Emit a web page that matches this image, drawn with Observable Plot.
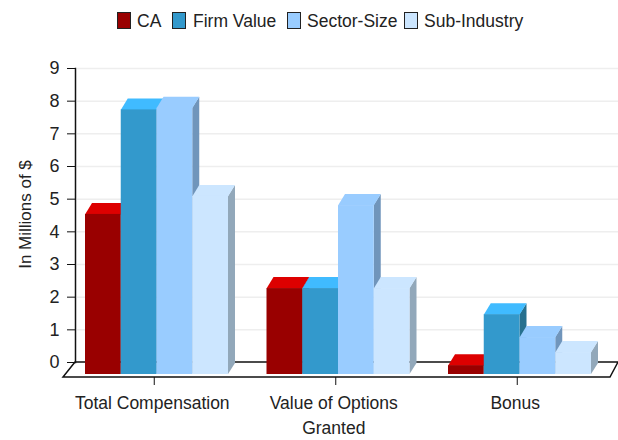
<!DOCTYPE html>
<html><head><meta charset="utf-8">
<script src="https://cdn.jsdelivr.net/npm/d3@7"></script>
<script src="https://cdn.jsdelivr.net/npm/@observablehq/plot@0.6"></script>
<style>
html,body{margin:0;padding:0;background:#fff}
#legend{position:relative;height:40px;width:618px;font:17.5px "Liberation Sans",Arial,sans-serif;color:#222}
#legend span{position:absolute;top:10px;line-height:22px;white-space:nowrap}
#legend i{position:absolute;top:12px;width:12px;height:15px;border:1px solid #222;box-sizing:content-box}
svg{display:block}
</style></head><body>
<div id="legend"></div>
<div id="chart"></div>
<script>
const groups = ["Total Compensation", "Value of Options\nGranted", "Bonus"];
const seriesNames = ["CA", "Firm Value", "Sector-Size", "Sub-Industry"];
const ca = [4.9, 2.63, 0.27];
const firmValue = [8.1, 2.63, 1.83];
const sectorSize = [8.15, 5.17, 1.13];
const subIndustry = [5.45, 2.63, 0.67];
const frontColors = ["#990000", "#3399cc", "#99ccff", "#cce6ff"];
const topColors = ["#dd0000", "#40bbff", "#99ccff", "#cce6ff"];
const sideColors = ["#660000", "#26708f", "#7095bb", "#92a8ba"];
const legendSwatchX = [117, 172, 287, 404];
const legendTextX = [137, 193, 307, 424];
const yTicks = [0,1,2,3,4,5,6,7,8,9];
const gridTicks = [1,2,3,4,5,6,7,8,9];

const seriesValues = [ca, firmValue, sectorSize, subIndustry];
const rows = groups.flatMap((g, gi) => seriesNames.map((s, si) => ({key: g + "|" + s, si, value: seriesValues[si][gi]})));
// one band per bar plus one empty band after each group
const xDomain = groups.flatMap(g => [...seriesNames.map(s => g + "|" + s), g + "|gap"]);
const groupTicks = groups.map(g => g + "|" + seriesNames[2]);

const depthX = 7, depthY = 11, frontDrop = 12, barShrink = 0.55;
const font = '"Liberation Sans",Arial,sans-serif';

const lg = document.getElementById("legend");
seriesNames.forEach((s, i) => {
  const sw = document.createElement("i");
  sw.style.left = legendSwatchX[i] + "px";
  sw.style.background = frontColors[i];
  lg.appendChild(sw);
  const t = document.createElement("span");
  t.style.left = legendTextX[i] + "px";
  t.textContent = s;
  lg.appendChild(t);
});

function bars3d(index, scales, values, dims) {
  const g = d3.create("svg:g");
  const band = scales.x(xDomain[1]) - scales.x(xDomain[0]);
  const w = band - barShrink;
  const y0 = scales.y(0) + frontDrop;
  for (const i of index) {
    const d = rows[i];
    const x = scales.x(d.key) - d.si * barShrink;
    const yf = scales.y(d.value) + frontDrop;
    g.append("polygon").attr("fill", sideColors[d.si])
      .attr("points", [[x+w,yf],[x+w+depthX,yf-depthY],[x+w+depthX,y0-depthY],[x+w,y0]].join(" "));
    g.append("polygon").attr("fill", topColors[d.si])
      .attr("points", [[x,yf+0.5],[x+depthX,yf-depthY],[x+w+depthX,yf-depthY],[x+w,yf+0.5]].join(" "));
    g.append("rect").attr("fill", frontColors[d.si])
      .attr("x", x).attr("y", yf).attr("width", w).attr("height", y0 - yf);
  }
  return g.node();
}

function floor(index, scales, values, dims) {
  const g = d3.create("svg:g");
  const yb = scales.y(0), yf = yb + 15;
  const xl = dims.marginLeft, xr = dims.width - dims.marginRight;
  g.append("path").attr("fill", "none").attr("stroke", "#111").attr("stroke-width", 1.5)
    .attr("d", `M${xl},${yb}L${xl-12},${yf}L${xr-8},${yf}L${xr},${yb}Z`);
  return g.node();
}

const chart = Plot.plot({
  width: 618,
  height: 400,
  marginLeft: 75,
  marginRight: 0,
  marginTop: 28,
  marginBottom: 78,
  style: {fontFamily: font, background: "#fff", color: "#222", overflow: "visible"},
  x: {domain: xDomain, range: [85, 629.5], padding: 0, round: false, axis: null, label: null},
  y: {domain: [0, 9], label: null},
  marks: [
    Plot.ruleY(gridTicks, {stroke: "#eeeeee", strokeWidth: 1.5, insetLeft: 2}),
    Plot.frame({anchor: "left", stroke: "#111", strokeWidth: 1.5}),
    Plot.ruleY([0], {render: floor}),
    Plot.barY(rows, {x: "key", y: "value", render: bars3d}),
    Plot.axisY({ticks: yTicks, tickFormat: d => String(d), tickSize: 8, tickPadding: 8, fontSize: 18, stroke: "#111", label: null}),
    Plot.axisX({ticks: groupTicks, tickFormat: null, anchor: "bottom", dy: 15, dx: -22, tickSize: 8, stroke: "#111", label: null}),
    Plot.axisX({ticks: groupTicks, tickFormat: d => d.split("|")[0], anchor: "bottom", dy: 15, dx: -24, tickSize: 0, tickPadding: 13, fontSize: 17.5, lineHeight: 1.45, label: null}),
    Plot.text(["In Millions of $"], {frameAnchor: "left", textAnchor: "middle", rotate: -90, dx: -50, dy: -1, fontSize: 17, fill: "#222"})
  ]
});
document.getElementById("chart").appendChild(chart);
</script>
</body></html>
